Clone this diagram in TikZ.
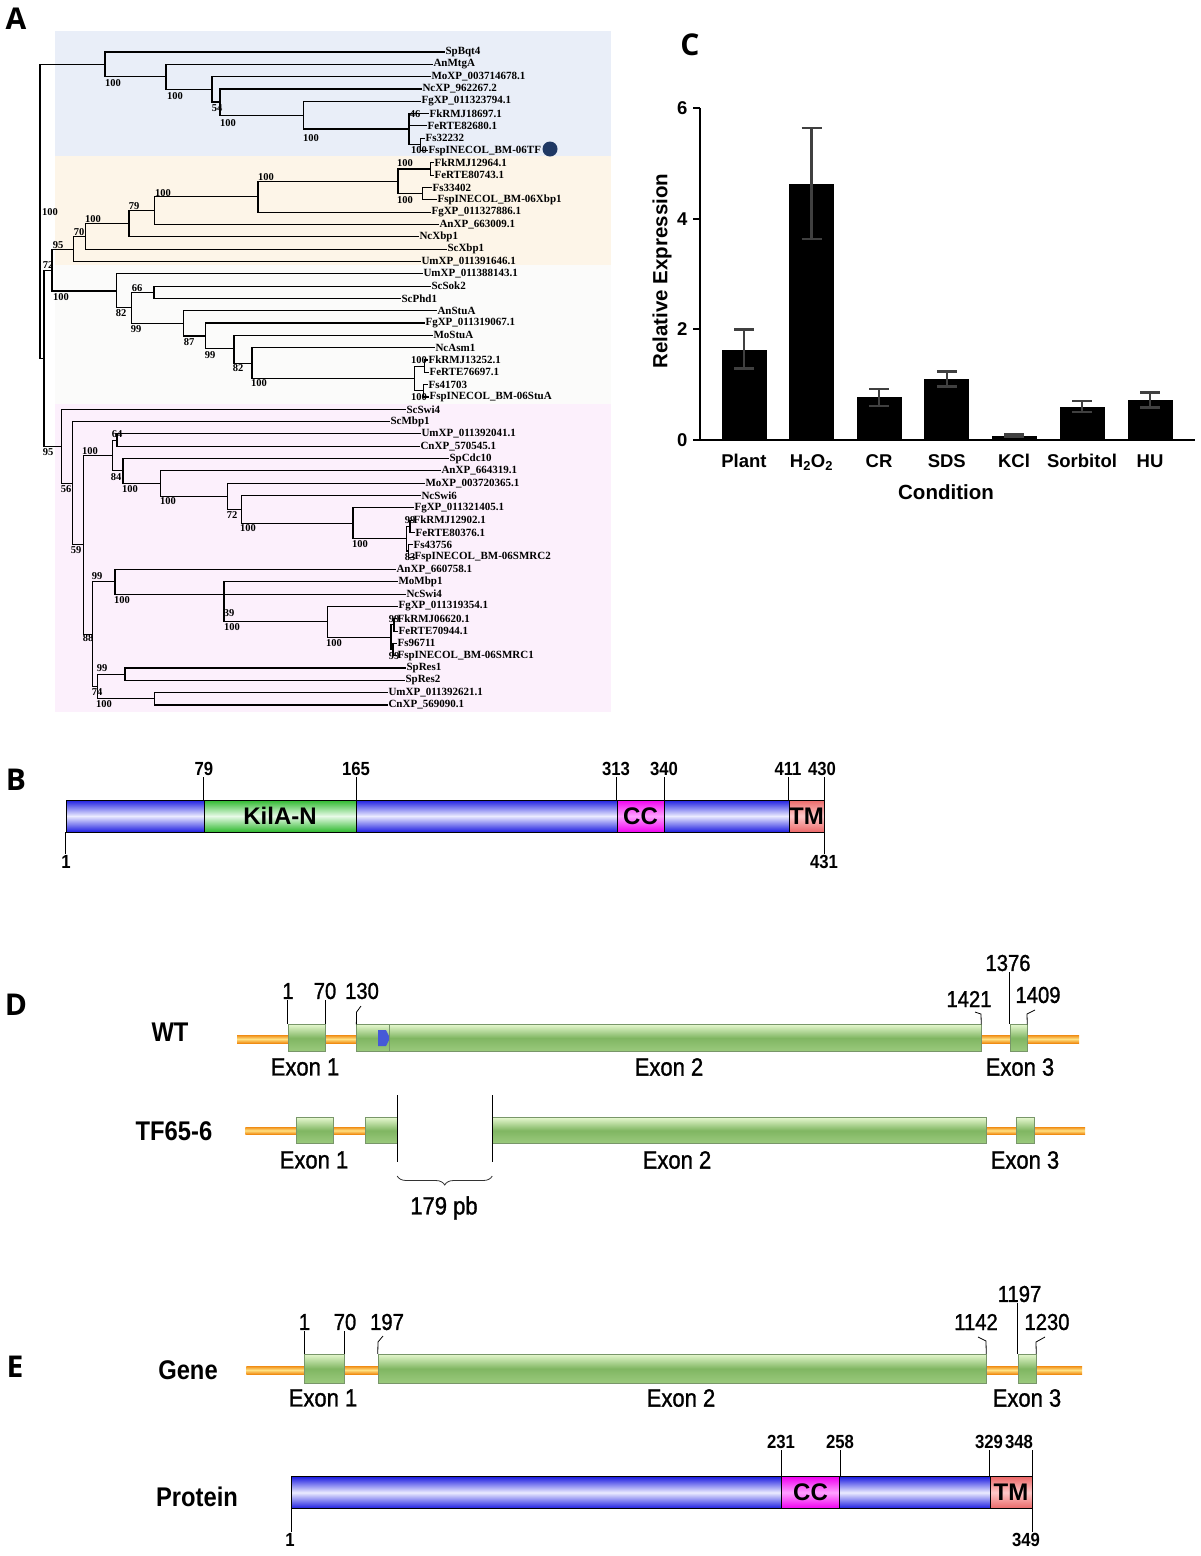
\documentclass[tikz,border=0pt]{standalone}
\usepackage{fontspec}
\setmainfont{Liberation Sans}
\newfontfamily\treefont{Liberation Serif}
\newfontfamily\panelfont{Open Sans}
\newfontfamily\narrowfont[FakeStretch=0.88]{Liberation Sans}
\newfontfamily\genefont[FakeStretch=0.88, FakeBold=1.2]{Liberation Sans}
\usepackage{tikz}
\usepackage{xcolor}
\usetikzlibrary{decorations.pathreplacing}
\usetikzlibrary{positioning}

\definecolor{bandblue}{RGB}{233,238,248}
\definecolor{bandorange}{RGB}{253,245,232}
\definecolor{bandgray}{RGB}{251,251,250}
\definecolor{bandpink}{RGB}{252,240,252}
\definecolor{tfnavy}{RGB}{31,56,100}
\definecolor{errgray}{RGB}{64,64,64}
\definecolor{barblue}{RGB}{30,30,225}
\definecolor{barlight}{RGB}{235,235,255}
\definecolor{kgreen}{RGB}{45,185,45}
\definecolor{klight}{RGB}{232,250,232}
\definecolor{ccpink}{RGB}{240,0,240}
\definecolor{cclight}{RGB}{255,160,255}
\definecolor{tmred}{RGB}{235,105,105}
\definecolor{tmlight}{RGB}{255,200,200}
\definecolor{intronorange}{RGB}{240,140,20}
\definecolor{intronyellow}{RGB}{255,225,130}
\definecolor{exonlight}{RGB}{228,247,205}
\definecolor{exondark}{RGB}{128,182,98}
\definecolor{exonmid}{RGB}{155,202,125}
\definecolor{exonedge}{RGB}{120,150,105}
\definecolor{markblue}{RGB}{70,90,215}

\tikzstyle{branch} = [line width=1.1pt, line cap=rect]
\tikzstyle{leaf} = [anchor=west, inner sep=1pt, font=\treefont\bfseries\fontsize{11}{12}\selectfont]
\tikzstyle{boot} = [inner sep=0pt, font=\treefont\bfseries\fontsize{10.5}{11}\selectfont]
\tikzstyle{panel} = [font=\panelfont\bfseries\fontsize{30}{32}\selectfont]
\tikzstyle{axis} = [line width=2pt]
\tikzstyle{errbar} = [line width=2.4pt, draw=errgray]
\tikzstyle{axislab} = [font=\bfseries\fontsize{18.5}{20}\selectfont]
\tikzstyle{axistitle} = [font=\bfseries\fontsize{20.5}{22}\selectfont]
\tikzstyle{rowlab} = [font=\narrowfont\bfseries\fontsize{27}{29}\selectfont]
\tikzstyle{blab} = [inner sep=1pt, font=\narrowfont\bfseries\fontsize{19}{21}\selectfont]
\tikzstyle{poslab} = [inner sep=1pt, font=\genefont\fontsize{23}{25}\selectfont]
\tikzstyle{exonlab} = [font=\genefont\fontsize{25}{27}\selectfont]
\tikzstyle{tick} = [line width=0.8pt]
\tikzstyle{protbar} = [rectangle, inner sep=0pt, draw=black, line width=0.8pt, top color=barblue, bottom color=barblue, middle color=barlight]
\tikzstyle{kilabox} = [rectangle, inner sep=0pt, draw=black, line width=0.8pt, top color=kgreen, bottom color=kgreen, middle color=klight, font=\bfseries\fontsize{24}{26}\selectfont]
\tikzstyle{ccbox} = [rectangle, inner sep=0pt, draw=black, line width=0.8pt, top color=ccpink, bottom color=ccpink, middle color=cclight, font=\bfseries\fontsize{24}{26}\selectfont]
\tikzstyle{tmbox} = [rectangle, inner sep=0pt, draw=black, line width=0.8pt, top color=tmred, bottom color=tmred, middle color=tmlight, font=\bfseries\fontsize{24}{26}\selectfont]
\tikzstyle{intron} = [rectangle, inner sep=0pt, top color=intronorange, bottom color=intronorange, middle color=intronyellow]
\tikzstyle{exon} = [rectangle, inner sep=0pt, draw=exonedge, line width=0.5pt, top color=exonlight, bottom color=exonmid, middle color=exondark]
\tikzstyle{bracedec} = [decorate, decoration={brace, mirror, amplitude=9pt}, line width=0.8pt, draw=black!80]

\begin{document}
\begin{tikzpicture}[x=1pt, y=-1pt]
\useasboundingbox (0,0) rectangle (1200,1556);

% ---------- A: tree ----------
\node (panelA) [panel] at (16,19) {A};
\fill[bandblue] (55,31) rectangle (611,156);
\fill[bandorange] (55,156) rectangle (611,265);
\fill[bandgray] (55,265) rectangle (611,404);
\fill[bandpink] (55,404) rectangle (611,712);

\begin{scope}[y=-12.32pt, yshift=-39.68pt]
  \foreach \r/\nx/\lx/\txt in {
    1/105/444/SpBqt4, 2/166/432/AnMtgA, 3/212/430/MoXP\_003714678.1,
    4/220/421/NcXP\_962267.2, 5/303.6/420/FgXP\_011323794.1, 6/409/428/FkRMJ18697.1,
    7/409/426/FeRTE82680.1, 8/420.6/424/Fs32232, 9/420.6/427/FspINECOL\_BM-06TF,
    10/430.6/433/FkRMJ12964.1, 11/430.6/433/FeRTE80743.1, 12/422.6/431/Fs33402,
    13/422.6/436/FspINECOL\_BM-06Xbp1, 14/258/430/FgXP\_011327886.1, 15/154.8/438/AnXP\_663009.1,
    16/129/418/NcXbp1, 17/85.3/446/ScXbp1, 18/73.4/420/UmXP\_011391646.1,
    19/116.3/422/UmXP\_011388143.1, 20/154/430/ScSok2, 21/154/400/ScPhd1,
    22/183.3/436/AnStuA, 23/205.6/424/FgXP\_011319067.1, 24/234/432/MoStuA,
    25/252/434/NcAsm1, 26/424.6/427/FkRMJ13252.1, 27/424.6/428/FeRTE76697.1,
    28/423.8/427/Fs41703, 29/423.8/428/FspINECOL\_BM-06StuA,
    30/61.5/405/ScSwi4, 31/72.6/389/ScMbp1, 32/117/420/UmXP\_011392041.1,
    33/117/419/CnXP\_570545.1, 34/123/448/SpCdc10, 35/160.7/440/AnXP\_664319.1,
    36/227.4/424/MoXP\_003720365.1, 37/241.3/420/NcSwi6, 38/353/413/FgXP\_011321405.1,
    39/410/412/FkRMJ12902.1, 40/410/414/FeRTE80376.1, 41/408.7/412/Fs43756,
    42/408.7/413/FspINECOL\_BM-06SMRC2, 43/115/395/AnXP\_660758.1, 44/224/397/MoMbp1,
    45/224/405/NcSwi4, 46/327.4/397/FgXP\_011319354.1, 47/394/396/FkRMJ06620.1,
    48/394/397/FeRTE70944.1, 49/393/396/Fs96711, 50/393/396/FspINECOL\_BM-06SMRC1,
    51/125/405/SpRes1, 52/125/404/SpRes2, 53/154.8/387/UmXP\_011392621.1,
    54/154.8/387/CnXP\_569090.1}
    \draw[branch] (\nx,\r) -- (\lx,\r) node[leaf] (leaf\r) {\txt};
  % inner nodes: x / from / to / parent x / joint
  \foreach \x/\a/\b/\px/\m in {
    420.6/8/9/409/8.5, 409/6/8.5/303.6/7.25, 303.6/5/7.25/220/6.125,
    220/4/6.125/212/5.06, 212/3/5.06/166/4.03, 166/2/4.03/105/3.02, 105/1/3.02/40/2.01,
    430.6/10/11/398/10.5, 422.6/12/13/398/12.5, 398/10.5/12.5/258/11.5,
    258/11.5/14/154.8/12.75, 154.8/12.75/15/129/13.9, 129/13.9/16/85.3/14.95,
    85.3/14.95/17/73.4/16, 73.4/16/18/52/17,
    424.6/26/27/414.7/26.5, 423.8/28/29/414.7/28.5, 414.7/26.5/28.5/252/27.5,
    252/25/27.5/234/26.25, 234/24/26.25/205.6/25.1, 205.6/23/25.1/183.3/24.05,
    183.3/22/24.05/131.7/23.03, 154/20/21/131.7/20.5, 131.7/20.5/23.03/116.3/21.77,
    116.3/19/21.77/52/20.4, 52/17/20.4/44/18.7,
    410/39/40/406.7/39.5, 408.7/41/42/406.7/41.5, 406.7/39.5/41.5/353/40.5,
    353/38/40.5/241.3/39.25, 241.3/37/39.25/227.4/38.1, 227.4/36/38.1/160.7/37.05,
    160.7/35/37.05/123/36, 123/34/36/112.3/35, 117/32/33/112.3/32.5,
    112.3/32.5/35/83.3/33.75,
    394/47/48/391/47.5, 393/49/50/391/49.5, 391/47.5/49.5/327.4/48.5,
    327.4/46/48.5/224/47.25, 224/44/47.25/115/45, 115/43/45/92.5/44,
    125/51/52/97.2/51.5, 154.8/53/54/97.2/53.5, 97.2/51.5/53.5/92.5/52.5,
    92.5/44/52.5/83.3/48.25, 83.3/33.75/48.25/72.6/41, 72.6/31/41/61.5/36,
    61.5/30/36/44/33, 44/18.7/33/40/25.85}
    \draw[branch] (\x,\a) -- (\x,\b) (\px,\m) -- (\x,\m);
  \draw[branch] (40,2.01) -- (40,25.85);
\end{scope}

% bootstrap values
\foreach \x/\y/\v [count=\i] in {
  113/83/100, 175/96/100, 217/108/54, 228/123/100, 311/138/100, 415/114/46, 419/150/100,
  405/163/100, 266/177/100, 163/193/100, 405/200/100, 134/206/79, 93/219/100, 50/212/100,
  79/232/70, 58/245/95, 48/265/72,
  61/297/100, 137/288/66, 121/313/82, 136/329/99, 189/342/87, 210/355/99, 238/368/82,
  259/383/100, 419/360/100, 419/397/100,
  48/452/95, 66/489/56, 76/550/59, 90/451/100, 117/434/64, 116/477/84, 130/489/100,
  168/501/100, 232/515/72, 248/528/100, 360/544/100, 410/520/99, 410/557/83,
  97/576/99, 122/600/100, 229/613/39, 232/627/100, 334/643/100, 394/619/99, 394/656/99,
  88/638/88, 102/668/99, 97/692/74, 104/704/100}
  \node (boot\i) [boot] at (\x,\y) {\v};

\node (tfdot) [circle, fill=tfnavy, minimum size=15pt, inner sep=0pt] at (550,149) {};

% ---------- C: expression ----------
\node (panelC) [panel] at (690,45) {C};
\begin{scope}[shift={(0pt,-440pt)}, y=55.3pt]
  \foreach \c/\v/\lo/\hi in {744/1.63/1.29/2.0, 811.5/4.63/3.63/5.64, 879/0.77/0.61/0.92,
      946.8/1.1/0.97/1.24, 1014/0.08/0.06/0.1, 1082/0.6/0.51/0.71, 1150/0.72/0.59/0.86} {
    \fill (\c-22.5,0) rectangle (\c+22.5,\v);
    \draw[errbar] (\c,\lo) -- (\c,\hi) (\c-10,\hi) -- (\c+10,\hi) (\c-10,\lo) -- (\c+10,\lo);
  }
  \draw[axis] (700,6) -- (700,0) -- (1195,0);
  \foreach \t in {0,2,4,6} {
    \draw[axis] (693,\t) -- (700,\t);
    \node (ytick\t) [axislab, anchor=east] at (691,\t) {\t};
  }
\end{scope}
\node (xPlant) [axislab, anchor=base] at (744,467) {Plant};
\node (xHO) [axislab, anchor=base] at (811.5,467) {H\textsubscript{2}O\textsubscript{2}};
\node (xCR) [axislab, anchor=base] at (879,467) {CR};
\node (xSDS) [axislab, anchor=base] at (946.8,467) {SDS};
\node (xKCl) [axislab, anchor=base] at (1014,467) {KCl};
\node (xSorb) [axislab, anchor=base] at (1082,467) {Sorbitol};
\node (xHU) [axislab, anchor=base] at (1150,467) {HU};
\node (xtitle) [axistitle] at (946,492) {Condition};
\node (ytitle) [axistitle, rotate=90] at (662,271) {Relative Expression};

% ---------- B: protein ----------
\node (panelB) [panel] at (16,780) {B};
\node (protB) [protbar, minimum width=758pt, minimum height=32pt] at (445,816) {};
\node (kilaB) [kilabox, minimum width=152pt, minimum height=32pt] at (280,816) {KilA-N};
\node (ccB) [ccbox, minimum width=47pt, minimum height=32pt] at (640.5,816) {CC};
\node (tmB) [tmbox, minimum width=35pt, minimum height=32pt] at (806.5,816) {TM};
\node (b79) [blab] at (204,769) {79};
\node (b165) [blab] at (356,769) {165};
\node (b313) [blab] at (616,769) {313};
\node (b340) [blab] at (664,769) {340};
\node (b411) [blab] at (788,769) {411};
\node (b430) [blab] at (822,769) {430};
\node (b1) [blab] at (66,862) {1};
\node (b431) [blab] at (824,862) {431};
\draw[tick] (kilaB.north west) -- (kilaB.north west |- b79.south);
\draw[tick] (kilaB.north east) -- (kilaB.north east |- b165.south);
\draw[tick] (ccB.north west) -- (ccB.north west |- b313.south);
\draw[tick] (ccB.north east) -- (ccB.north east |- b340.south);
\draw[tick] (tmB.north west) -- (tmB.north west |- b411.south);
\draw[tick] (tmB.north east) -- (tmB.north east |- b430.south);
\draw[tick] (protB.south west) -- (protB.south west |- b1.north);
\draw[tick] (protB.south east) -- (protB.south east |- b431.north);

% ---------- D: gene, WT and TF65-6 ----------
\node (panelD) [panel] at (16,1005) {D};
\node (wtlab) [rowlab] at (170,1032) {WT};
\node (wtline) [intron, minimum width=842pt, minimum height=8pt] at (658,1039) {};
\node (wtex1) [exon, minimum width=37pt, minimum height=27pt] at (306.5,1038) {};
\node (wtex2) [exon, minimum width=624.4pt, minimum height=27pt] at (668.8,1038) {};
\node (wtex3) [exon, minimum width=17pt, minimum height=27pt] at (1018.5,1038) {};
\fill[markblue] (378,1030) -- (386,1030) -- (390,1038) -- (386,1046) -- (378,1046) -- cycle;
\draw[exonedge, line width=0.6pt] (389,1024.5) -- (389,1051.5);
\node (wt1) [poslab] at (288,991) {1};
\node (wt70) [poslab] at (325,991) {70};
\node (wt130) [poslab] at (362,991) {130};
\node (wt1421) [poslab] at (969,999) {1421};
\node (wt1376) [poslab] at (1008,963) {1376};
\node (wt1409) [poslab] at (1038,995) {1409};
\draw[tick] (wtex1.north west |- wt1.south) -- (wtex1.north west);
\draw[tick] (wtex1.north east |- wt70.south) -- (wtex1.north east);
\draw[tick] (361,1006) -- (356.6,1012) -- (wtex2.north west);
\draw[tick] (975,1012) -- (981,1014) -- (wtex2.north east);
\draw[tick] (wtex3.north west |- wt1376.south) -- (wtex3.north west);
\draw[tick] (1035,1010) -- (1027,1014) -- (wtex3.north east);
\node (wtx1) [exonlab] at (305,1067) {Exon 1};
\node (wtx2) [exonlab] at (669,1067) {Exon 2};
\node (wtx3) [exonlab] at (1020,1067) {Exon 3};

\node (tflab) [rowlab] at (174,1131) {TF65-6};
\node (tfline1) [intron, minimum width=152pt, minimum height=7pt] at (321.4,1130.5) {};
\node (tfline2) [intron, minimum width=593pt, minimum height=7pt] at (788.5,1130.5) {};
\node (tfex1) [exon, minimum width=37pt, minimum height=25.6pt] at (315,1130.5) {};
\node (tfex2a) [exon, minimum width=32pt, minimum height=25.6pt] at (381.3,1130.5) {};
\node (tfex2b) [exon, minimum width=494.3pt, minimum height=25.6pt] at (739.4,1130.5) {};
\node (tfex3) [exon, minimum width=18pt, minimum height=25.6pt] at (1025.4,1130.5) {};
\draw[tick] (397.2,1095) -- (397.2,1162);
\draw[tick] (492.2,1095) -- (492.2,1162);
\coordinate (gapL) at (397.2,1176);
\coordinate (gapR) at (492.2,1176);
\draw[bracedec] (gapL) -- (gapR);
\node (gaplab) [exonlab] at (444,1208) {179 pb};
\node (tfx1) [exonlab] at (314,1160) {Exon 1};
\node (tfx2) [exonlab] at (677,1160) {Exon 2};
\node (tfx3) [exonlab] at (1025,1160) {Exon 3};

% ---------- E: gene and protein ----------
\node (panelE) [panel] at (15,1367) {E};
\node (genelab) [rowlab] at (188,1370) {Gene};
\node (geneline) [intron, minimum width=835.6pt, minimum height=8pt] at (664.2,1370) {};
\node (gex1) [exon, minimum width=39.8pt, minimum height=29pt] at (324.4,1368.7) {};
\node (gex2) [exon, minimum width=608pt, minimum height=29pt] at (682,1368.7) {};
\node (gex3) [exon, minimum width=18pt, minimum height=29pt] at (1027,1368.7) {};
\node (g1) [poslab] at (304.5,1322) {1};
\node (g70) [poslab] at (345,1322) {70};
\node (g197) [poslab] at (387,1322) {197};
\node (g1142) [poslab] at (976,1322) {1142};
\node (g1197) [poslab] at (1019.5,1294) {1197};
\node (g1230) [poslab] at (1047,1322) {1230};
\draw[tick] (gex1.north west |- g1.south) -- (gex1.north west);
\draw[tick] (gex1.north east |- g70.south) -- (gex1.north east);
\draw[tick] (383,1336) -- (378,1342) -- (gex2.north west);
\draw[tick] (978,1337) -- (986,1341) -- (gex2.north east);
\draw[tick] (gex3.north west |- g1197.south) -- (gex3.north west);
\draw[tick] (1045,1337) -- (1036,1342) -- (gex3.north east);
\node (gx1) [exonlab] at (323,1398) {Exon 1};
\node (gx2) [exonlab] at (681,1398) {Exon 2};
\node (gx3) [exonlab] at (1027,1398) {Exon 3};

\node (protlab) [rowlab] at (197,1497) {Protein};
\node (protE) [protbar, minimum width=740.6pt, minimum height=31.5pt] at (661.7,1492.5) {};
\node (ccE) [ccbox, minimum width=58pt, minimum height=31.5pt] at (810.5,1492.5) {CC};
\node (tmE) [tmbox, minimum width=42pt, minimum height=31.5pt] at (1011,1492.5) {TM};
\node (e231) [blab] at (781,1442) {231};
\node (e258) [blab] at (840,1442) {258};
\node (e329) [blab] at (989,1442) {329};
\node (e348) [blab] at (1019,1442) {348};
\node (e1) [blab] at (290,1540) {1};
\node (e349) [blab] at (1026,1540) {349};
\draw[tick] (ccE.north west) -- (ccE.north west |- e231.south);
\draw[tick] (ccE.north east) -- (ccE.north east |- e258.south);
\draw[tick] (tmE.north west) -- (tmE.north west |- e329.south);
\draw[tick] (tmE.north east) -- (tmE.north east |- e348.south);
\draw[tick] (protE.south west) -- (protE.south west |- e1.north);
\draw[tick] (protE.south east) -- (protE.south east |- e349.north);
\end{tikzpicture}
\end{document}
